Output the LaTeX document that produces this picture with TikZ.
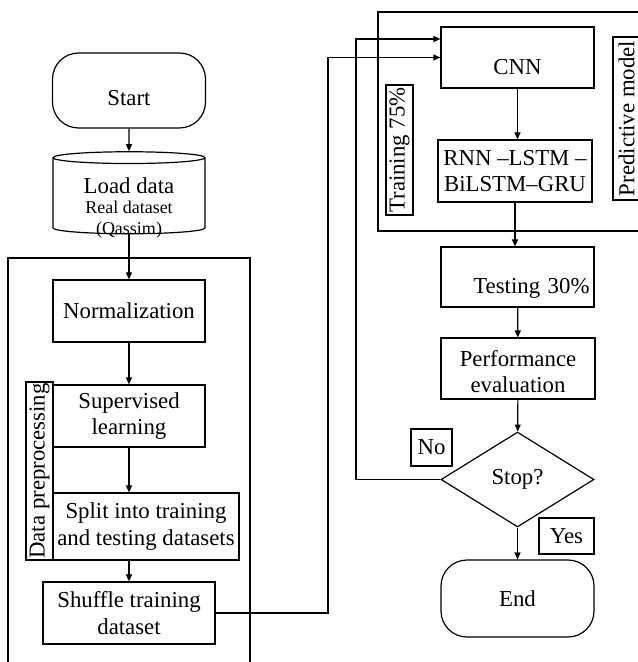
\documentclass[tikz,border=0pt]{standalone}
\usepackage{fontspec}
\setmainfont{Liberation Serif}
\usetikzlibrary{arrows.meta,shapes.geometric,positioning,calc}
\tikzset{
    txt/.style={font=\fontsize{11.4}{13.3}\selectfont},
    small/.style={font=\fontsize{8}{9}\selectfont},
    boxbase/.style={draw, line width=0.6pt, inner sep=1pt, align=center, txt},
    procbox/.style args={#1 #2}{boxbase, rectangle, minimum width=#1, minimum height=#2},
    termbox/.style={boxbase, rectangle, rounded corners=13pt, minimum width=76.5pt, minimum height=#1},
    sidelabel/.style={draw, line width=1.3pt, inner sep=0.5pt, minimum height=13.5pt, rotate=90, txt},
    answer/.style={draw, line width=0.6pt, inner sep=0pt, txt},
    frame/.style={line width=0.6pt},
    arr/.style={line width=0.6pt, -{Triangle[length=3.5pt,width=3pt]}}
}
\begin{document}
\begin{tikzpicture}[x=0.5pt, y=-0.5pt]
    \useasboundingbox (0,0) rectangle (637,662);
    % left column
    \node[termbox=37.5pt] (start) at (129,90.5) {\rule{0pt}{15pt}Start};
    \node[boxbase, cylinder, shape border rotate=90, aspect=0.13, minimum width=76pt, minimum height=41pt, inner sep=0pt] (load) at (129,196)
        {\phantom{Load data}\\[-3pt]{\small\phantom{Real dataset}}\\[-3pt]{\small\phantom{(Qassim)}}};
    \node[txt, align=center, inner sep=0pt] (loadtxt) at ($(load.center)+(0,12)$)
        {Load data\\[-3pt]{\small Real dataset}\\[-3pt]{\small (Qassim)}};
    \draw[frame] (8,662) |- (250,258) -- (250,662);
    \node[procbox={76pt 31pt}] (norm) at (129,311) {Normalization};
    \node[procbox={76pt 31pt}] (superv) at (129,416) {Supervised\\learning};
    \node[procbox={93pt 33.5pt}] (split) at (146,526.5) {Split into training\\and testing datasets};
    \node[procbox={86pt 31pt}] (shuffle) at (129,613) {Shuffle training\\dataset};
    \node[sidelabel, minimum width=89pt] (dplabel) at (39.5,471) {Data preprocessing};
    % right column
    \draw[frame] (645,12) -| (378,231) -- (645,231);
    \node[procbox={76.5pt 30.5pt}] (cnn) at (517.5,57.5) {\rule{0pt}{17pt}CNN};
    \node[procbox={77pt 31pt}] (rnn) at (515,171) {RNN --LSTM --\\BiLSTM--GRU};
    \node[sidelabel, minimum width=65pt] (trlabel) at (399.5,150) {Training 75\%};
    \node[sidelabel, minimum width=81.5pt] (pmlabel) at (626.5,118.5) {Predictive model};
    \node[procbox={76.5pt 30pt}, text width=72pt, align=right] (test) at (517.5,277) {\rule{0pt}{19pt}Testing 30\%};
    \node[procbox={77pt 30.5pt}] (perf) at (518,368.5) {\rule{0pt}{11pt}Performance\\evaluation};
    \node[boxbase, diamond, inner sep=0pt, minimum width=76.5pt, minimum height=47.5pt] (stop) at (517.5,479.5) {Stop?};
    \node[termbox=38.5pt] (endn) at (517.5,598.5) {End};
    \node[answer, minimum width=20.5pt, minimum height=18.5pt] (no) at (431.5,447.5) {No};
    \node[answer, minimum width=27.5pt, minimum height=18pt] (yes) at (566.5,536) {Yes};
    \coordinate (j1) at (328,0);
    \coordinate (j2) at (356,39);
    % connectors
    \draw[arr] (start) -- (load);
    \draw[arr] (load.south) -- (norm.north);
    \draw[arr] (norm) -- (superv);
    \draw[arr] (superv.south) -- (superv.south |- split.north);
    \draw[arr] (shuffle.north |- split.south) -- (shuffle.north);
    \draw[arr] (shuffle.east) -| (j1 |- cnn.west) -- (cnn.west);
    \draw[arr] (stop.west) -| (j2) -- (j2 -| cnn.west);
    \draw[arr] (cnn.south) -- (cnn.south |- rnn.north);
    \draw[arr] (rnn.south) -- (rnn.south |- test.north);
    \draw[arr] (test) -- (perf);
    \draw[arr] (perf) -- (stop);
    \draw[arr] (stop) -- (endn);
\end{tikzpicture}
\end{document}
